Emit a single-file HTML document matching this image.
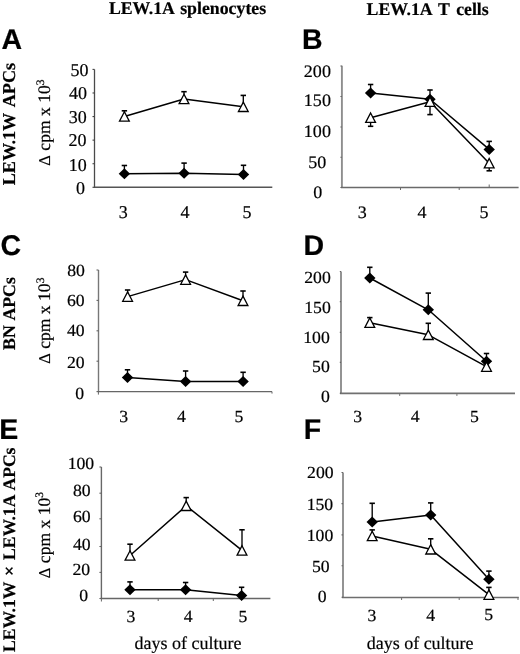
<!DOCTYPE html>
<html><head><meta charset="utf-8"><style>
html,body{margin:0;padding:0;background:#fff;width:520px;height:654px;overflow:hidden}
svg{display:block;will-change:transform;text-rendering:geometricPrecision}
</style></head><body>
<svg width="520" height="654" viewBox="0 0 520 654">
<rect width="520" height="654" fill="#fff"/>
<line x1="94.5" y1="69.4" x2="94.5" y2="187.3" stroke="#4a4a4a" stroke-width="1.3"/>
<line x1="93.85" y1="187.3" x2="272.3" y2="187.3" stroke="#555" stroke-width="1.4"/>
<line x1="92.5" y1="187.30" x2="94.5" y2="187.30" stroke="#444" stroke-width="1.1"/>
<line x1="92.5" y1="163.72" x2="94.5" y2="163.72" stroke="#444" stroke-width="1.1"/>
<line x1="92.5" y1="140.14" x2="94.5" y2="140.14" stroke="#444" stroke-width="1.1"/>
<line x1="92.5" y1="116.56" x2="94.5" y2="116.56" stroke="#444" stroke-width="1.1"/>
<line x1="92.5" y1="92.98" x2="94.5" y2="92.98" stroke="#444" stroke-width="1.1"/>
<line x1="92.5" y1="69.40" x2="94.5" y2="69.40" stroke="#444" stroke-width="1.1"/>
<text x="70.58" y="75.62" font-family='"Liberation Serif", serif' font-weight="normal" font-size="18" fill="#000" stroke="#000" stroke-width="0.2">50</text>
<text x="69.08" y="99.22" font-family='"Liberation Serif", serif' font-weight="normal" font-size="18" fill="#000" stroke="#000" stroke-width="0.2">40</text>
<text x="68.68" y="122.72" font-family='"Liberation Serif", serif' font-weight="normal" font-size="18" fill="#000" stroke="#000" stroke-width="0.2">30</text>
<text x="68.38" y="146.32" font-family='"Liberation Serif", serif' font-weight="normal" font-size="18" fill="#000" stroke="#000" stroke-width="0.2">20</text>
<text x="68.83" y="170.62" font-family='"Liberation Serif", serif' font-weight="normal" font-size="18" fill="#000" stroke="#000" stroke-width="0.2">10</text>
<text x="75.98" y="194.32" font-family='"Liberation Serif", serif' font-weight="normal" font-size="18" fill="#000" stroke="#000" stroke-width="0.2">0</text>
<text x="118.83" y="217.72" font-family='"Liberation Serif", serif' font-weight="normal" font-size="18" fill="#000" stroke="#000" stroke-width="0.2">3</text>
<text x="180.46" y="217.90" font-family='"Liberation Serif", serif' font-weight="normal" font-size="18" fill="#000" stroke="#000" stroke-width="0.2">4</text>
<text x="242.44" y="217.72" font-family='"Liberation Serif", serif' font-weight="normal" font-size="18" fill="#000" stroke="#000" stroke-width="0.2">5</text>
<polyline points="124.40,116.50 184.00,99.00 243.30,106.80" fill="none" stroke="#000" stroke-width="1.5" stroke-linejoin="round"/>
<polyline points="124.40,173.80 184.10,173.30 243.50,174.50" fill="none" stroke="#000" stroke-width="1.5" stroke-linejoin="round"/>
<line x1="124.40" y1="173.80" x2="124.40" y2="165.50" stroke="#000" stroke-width="1.35"/><line x1="121.70" y1="165.50" x2="127.10" y2="165.50" stroke="#000" stroke-width="1.6"/>
<path d="M124.40 168.30 L130.10 173.80 L124.40 179.30 L118.70 173.80Z" fill="#000"/>
<line x1="184.10" y1="173.30" x2="184.10" y2="163.10" stroke="#000" stroke-width="1.35"/><line x1="181.40" y1="163.10" x2="186.80" y2="163.10" stroke="#000" stroke-width="1.6"/>
<path d="M184.10 167.80 L189.80 173.30 L184.10 178.80 L178.40 173.30Z" fill="#000"/>
<line x1="243.50" y1="174.50" x2="243.50" y2="165.30" stroke="#000" stroke-width="1.35"/><line x1="240.80" y1="165.30" x2="246.20" y2="165.30" stroke="#000" stroke-width="1.6"/>
<path d="M243.50 169.00 L249.20 174.50 L243.50 180.00 L237.80 174.50Z" fill="#000"/>
<line x1="124.40" y1="116.50" x2="124.40" y2="110.80" stroke="#000" stroke-width="1.35"/><line x1="121.70" y1="110.80" x2="127.10" y2="110.80" stroke="#000" stroke-width="1.6"/>
<path d="M124.40 111.80 L129.30 121.20 L119.50 121.20Z" fill="#fff" stroke="#000" stroke-width="1.3" stroke-linejoin="miter"/>
<line x1="184.00" y1="99.00" x2="184.00" y2="91.70" stroke="#000" stroke-width="1.35"/><line x1="181.30" y1="91.70" x2="186.70" y2="91.70" stroke="#000" stroke-width="1.6"/>
<path d="M184.00 94.30 L188.90 103.70 L179.10 103.70Z" fill="#fff" stroke="#000" stroke-width="1.3" stroke-linejoin="miter"/>
<line x1="243.30" y1="106.80" x2="243.30" y2="95.40" stroke="#000" stroke-width="1.35"/><line x1="240.60" y1="95.40" x2="246.00" y2="95.40" stroke="#000" stroke-width="1.6"/>
<path d="M243.30 102.10 L248.20 111.50 L238.40 111.50Z" fill="#fff" stroke="#000" stroke-width="1.3" stroke-linejoin="miter"/>
<line x1="341.9" y1="65.7" x2="341.9" y2="187.5" stroke="#8e8e8e" stroke-width="1.9"/>
<line x1="340.95" y1="187.5" x2="518.6" y2="187.5" stroke="#6a6a6a" stroke-width="1.5"/>
<line x1="340.4" y1="187.50" x2="341.9" y2="187.50" stroke="#666" stroke-width="1.1"/>
<line x1="340.4" y1="157.30" x2="341.9" y2="157.30" stroke="#666" stroke-width="1.1"/>
<line x1="340.4" y1="126.95" x2="341.9" y2="126.95" stroke="#666" stroke-width="1.1"/>
<line x1="340.4" y1="96.50" x2="341.9" y2="96.50" stroke="#666" stroke-width="1.1"/>
<line x1="340.4" y1="66.00" x2="341.9" y2="66.00" stroke="#666" stroke-width="1.1"/>
<line x1="400.5" y1="187.5" x2="400.5" y2="190.0" stroke="#6a6a6a" stroke-width="1"/>
<line x1="459.2" y1="187.5" x2="459.2" y2="190.0" stroke="#6a6a6a" stroke-width="1"/>
<line x1="489.2" y1="187.5" x2="489.2" y2="184.5" stroke="#6a6a6a" stroke-width="1"/>
<text transform="translate(303.85,76.73) scale(1.03,1)" font-family='"Liberation Serif", serif' font-weight="normal" font-size="17.5" fill="#000" stroke="#000" stroke-width="0.2">200</text>
<text transform="translate(303.85,106.42) scale(1.03,1)" font-family='"Liberation Serif", serif' font-weight="normal" font-size="17.5" fill="#000" stroke="#000" stroke-width="0.2">150</text>
<text transform="translate(303.85,136.72) scale(1.03,1)" font-family='"Liberation Serif", serif' font-weight="normal" font-size="17.5" fill="#000" stroke="#000" stroke-width="0.2">100</text>
<text transform="translate(308.26,167.82) scale(1.03,1)" font-family='"Liberation Serif", serif' font-weight="normal" font-size="17.5" fill="#000" stroke="#000" stroke-width="0.2">50</text>
<text transform="translate(313.37,198.32) scale(1.03,1)" font-family='"Liberation Serif", serif' font-weight="normal" font-size="17.5" fill="#000" stroke="#000" stroke-width="0.2">0</text>
<text transform="translate(357.82,218.12) scale(1.03,1)" font-family='"Liberation Serif", serif' font-weight="normal" font-size="17.5" fill="#000" stroke="#000" stroke-width="0.2">3</text>
<text transform="translate(417.56,218.30) scale(1.03,1)" font-family='"Liberation Serif", serif' font-weight="normal" font-size="17.5" fill="#000" stroke="#000" stroke-width="0.2">4</text>
<text transform="translate(479.43,218.12) scale(1.03,1)" font-family='"Liberation Serif", serif' font-weight="normal" font-size="17.5" fill="#000" stroke="#000" stroke-width="0.2">5</text>
<polyline points="370.60,117.70 430.00,101.70 489.20,163.20" fill="none" stroke="#000" stroke-width="1.5" stroke-linejoin="round"/>
<polyline points="370.60,93.10 430.00,99.20 489.20,149.40" fill="none" stroke="#000" stroke-width="1.5" stroke-linejoin="round"/>
<line x1="370.60" y1="93.10" x2="370.60" y2="84.50" stroke="#000" stroke-width="1.35"/><line x1="367.90" y1="84.50" x2="373.30" y2="84.50" stroke="#000" stroke-width="1.6"/>
<path d="M370.60 87.60 L376.30 93.10 L370.60 98.60 L364.90 93.10Z" fill="#000"/>
<line x1="430.00" y1="99.20" x2="430.00" y2="90.00" stroke="#000" stroke-width="1.35"/><line x1="427.30" y1="90.00" x2="432.70" y2="90.00" stroke="#000" stroke-width="1.6"/>
<path d="M430.00 93.70 L435.70 99.20 L430.00 104.70 L424.30 99.20Z" fill="#000"/>
<line x1="489.20" y1="149.40" x2="489.20" y2="141.40" stroke="#000" stroke-width="1.35"/><line x1="486.50" y1="141.40" x2="491.90" y2="141.40" stroke="#000" stroke-width="1.6"/>
<path d="M489.20 143.90 L494.90 149.40 L489.20 154.90 L483.50 149.40Z" fill="#000"/>
<line x1="370.60" y1="117.70" x2="370.60" y2="126.30" stroke="#000" stroke-width="1.35"/><line x1="367.90" y1="126.30" x2="373.30" y2="126.30" stroke="#000" stroke-width="1.6"/>
<path d="M370.60 113.00 L375.50 122.40 L365.70 122.40Z" fill="#fff" stroke="#000" stroke-width="1.3" stroke-linejoin="miter"/>
<line x1="430.00" y1="101.70" x2="430.00" y2="114.60" stroke="#000" stroke-width="1.35"/><line x1="427.30" y1="114.60" x2="432.70" y2="114.60" stroke="#000" stroke-width="1.6"/>
<path d="M430.00 97.00 L434.90 106.40 L425.10 106.40Z" fill="#fff" stroke="#000" stroke-width="1.3" stroke-linejoin="miter"/>
<line x1="489.20" y1="163.20" x2="489.20" y2="170.80" stroke="#000" stroke-width="1.35"/><line x1="486.50" y1="170.80" x2="491.90" y2="170.80" stroke="#000" stroke-width="1.6"/>
<path d="M489.20 158.50 L494.10 167.90 L484.30 167.90Z" fill="#fff" stroke="#000" stroke-width="1.3" stroke-linejoin="miter"/>
<line x1="98.5" y1="270.0" x2="98.5" y2="391.6" stroke="#777" stroke-width="1.4"/>
<line x1="97.8" y1="391.6" x2="272.0" y2="391.6" stroke="#666" stroke-width="1.4"/>
<line x1="96.5" y1="391.60" x2="98.5" y2="391.60" stroke="#666" stroke-width="1.1"/>
<line x1="96.5" y1="361.20" x2="98.5" y2="361.20" stroke="#666" stroke-width="1.1"/>
<line x1="96.5" y1="330.80" x2="98.5" y2="330.80" stroke="#666" stroke-width="1.1"/>
<line x1="96.5" y1="300.40" x2="98.5" y2="300.40" stroke="#666" stroke-width="1.1"/>
<line x1="96.5" y1="270.00" x2="98.5" y2="270.00" stroke="#666" stroke-width="1.1"/>
<line x1="98.4" y1="391.6" x2="98.4" y2="394.6" stroke="#666" stroke-width="1"/>
<line x1="272.0" y1="391.6" x2="272.0" y2="393.6" stroke="#666" stroke-width="1"/>
<text transform="translate(67.19,276.13) scale(1.04,1)" font-family='"Liberation Serif", serif' font-weight="normal" font-size="17" fill="#000" stroke="#000" stroke-width="0.2">80</text>
<text transform="translate(66.99,305.83) scale(1.04,1)" font-family='"Liberation Serif", serif' font-weight="normal" font-size="17" fill="#000" stroke="#000" stroke-width="0.2">60</text>
<text transform="translate(66.89,336.23) scale(1.04,1)" font-family='"Liberation Serif", serif' font-weight="normal" font-size="17" fill="#000" stroke="#000" stroke-width="0.2">40</text>
<text transform="translate(66.89,367.83) scale(1.04,1)" font-family='"Liberation Serif", serif' font-weight="normal" font-size="17" fill="#000" stroke="#000" stroke-width="0.2">20</text>
<text transform="translate(75.33,398.53) scale(1.04,1)" font-family='"Liberation Serif", serif' font-weight="normal" font-size="17" fill="#000" stroke="#000" stroke-width="0.2">0</text>
<text transform="translate(119.26,421.83) scale(1.04,1)" font-family='"Liberation Serif", serif' font-weight="normal" font-size="17" fill="#000" stroke="#000" stroke-width="0.2">3</text>
<text transform="translate(176.89,422.00) scale(1.04,1)" font-family='"Liberation Serif", serif' font-weight="normal" font-size="17" fill="#000" stroke="#000" stroke-width="0.2">4</text>
<text transform="translate(234.62,421.83) scale(1.04,1)" font-family='"Liberation Serif", serif' font-weight="normal" font-size="17" fill="#000" stroke="#000" stroke-width="0.2">5</text>
<polyline points="127.60,296.60 185.60,279.60 243.00,300.80" fill="none" stroke="#000" stroke-width="1.5" stroke-linejoin="round"/>
<polyline points="127.50,377.50 185.60,381.60 243.10,381.50" fill="none" stroke="#000" stroke-width="1.5" stroke-linejoin="round"/>
<line x1="127.50" y1="377.50" x2="127.50" y2="369.80" stroke="#000" stroke-width="1.35"/><line x1="124.80" y1="369.80" x2="130.20" y2="369.80" stroke="#000" stroke-width="1.6"/>
<path d="M127.50 372.00 L133.20 377.50 L127.50 383.00 L121.80 377.50Z" fill="#000"/>
<line x1="185.60" y1="381.60" x2="185.60" y2="371.00" stroke="#000" stroke-width="1.35"/><line x1="182.90" y1="371.00" x2="188.30" y2="371.00" stroke="#000" stroke-width="1.6"/>
<path d="M185.60 376.10 L191.30 381.60 L185.60 387.10 L179.90 381.60Z" fill="#000"/>
<line x1="243.10" y1="381.50" x2="243.10" y2="372.30" stroke="#000" stroke-width="1.35"/><line x1="240.40" y1="372.30" x2="245.80" y2="372.30" stroke="#000" stroke-width="1.6"/>
<path d="M243.10 376.00 L248.80 381.50 L243.10 387.00 L237.40 381.50Z" fill="#000"/>
<line x1="127.60" y1="296.60" x2="127.60" y2="290.00" stroke="#000" stroke-width="1.35"/><line x1="124.90" y1="290.00" x2="130.30" y2="290.00" stroke="#000" stroke-width="1.6"/>
<path d="M127.60 291.90 L132.50 301.30 L122.70 301.30Z" fill="#fff" stroke="#000" stroke-width="1.3" stroke-linejoin="miter"/>
<line x1="185.60" y1="279.60" x2="185.60" y2="272.10" stroke="#000" stroke-width="1.35"/><line x1="182.90" y1="272.10" x2="188.30" y2="272.10" stroke="#000" stroke-width="1.6"/>
<path d="M185.60 274.90 L190.50 284.30 L180.70 284.30Z" fill="#fff" stroke="#000" stroke-width="1.3" stroke-linejoin="miter"/>
<line x1="243.00" y1="300.80" x2="243.00" y2="291.00" stroke="#000" stroke-width="1.35"/><line x1="240.30" y1="291.00" x2="245.70" y2="291.00" stroke="#000" stroke-width="1.6"/>
<path d="M243.00 296.10 L247.90 305.50 L238.10 305.50Z" fill="#fff" stroke="#000" stroke-width="1.3" stroke-linejoin="miter"/>
<line x1="341.0" y1="271.5" x2="341.0" y2="393.4" stroke="#8e8e8e" stroke-width="1.9"/>
<line x1="340.05" y1="393.4" x2="515.0" y2="393.4" stroke="#707070" stroke-width="1.6"/>
<line x1="339.8" y1="393.40" x2="341.0" y2="393.40" stroke="#666" stroke-width="1.1"/>
<line x1="339.8" y1="362.40" x2="341.0" y2="362.40" stroke="#666" stroke-width="1.1"/>
<line x1="339.8" y1="332.40" x2="341.0" y2="332.40" stroke="#666" stroke-width="1.1"/>
<line x1="339.8" y1="301.60" x2="341.0" y2="301.60" stroke="#666" stroke-width="1.1"/>
<line x1="339.8" y1="271.50" x2="341.0" y2="271.50" stroke="#666" stroke-width="1.1"/>
<line x1="399.7" y1="393.4" x2="399.7" y2="395.9" stroke="#707070" stroke-width="1"/>
<line x1="456.9" y1="393.4" x2="456.9" y2="395.9" stroke="#707070" stroke-width="1"/>
<text transform="translate(304.25,282.53) scale(1.04,1)" font-family='"Liberation Serif", serif' font-weight="normal" font-size="17" fill="#000" stroke="#000" stroke-width="0.2">200</text>
<text transform="translate(304.25,312.73) scale(1.04,1)" font-family='"Liberation Serif", serif' font-weight="normal" font-size="17" fill="#000" stroke="#000" stroke-width="0.2">150</text>
<text transform="translate(303.25,342.73) scale(1.04,1)" font-family='"Liberation Serif", serif' font-weight="normal" font-size="17" fill="#000" stroke="#000" stroke-width="0.2">100</text>
<text transform="translate(312.09,372.33) scale(1.04,1)" font-family='"Liberation Serif", serif' font-weight="normal" font-size="17" fill="#000" stroke="#000" stroke-width="0.2">50</text>
<text transform="translate(320.93,401.93) scale(1.04,1)" font-family='"Liberation Serif", serif' font-weight="normal" font-size="17" fill="#000" stroke="#000" stroke-width="0.2">0</text>
<text transform="translate(353.31,421.73) scale(1.04,1)" font-family='"Liberation Serif", serif' font-weight="normal" font-size="17" fill="#000" stroke="#000" stroke-width="0.2">3</text>
<text transform="translate(410.74,421.90) scale(1.04,1)" font-family='"Liberation Serif", serif' font-weight="normal" font-size="17" fill="#000" stroke="#000" stroke-width="0.2">4</text>
<text transform="translate(469.92,421.73) scale(1.04,1)" font-family='"Liberation Serif", serif' font-weight="normal" font-size="17" fill="#000" stroke="#000" stroke-width="0.2">5</text>
<polyline points="369.80,322.70 428.30,334.80 486.50,366.60" fill="none" stroke="#000" stroke-width="1.5" stroke-linejoin="round"/>
<polyline points="369.80,278.00 428.30,309.80 486.50,361.20" fill="none" stroke="#000" stroke-width="1.5" stroke-linejoin="round"/>
<line x1="369.80" y1="278.00" x2="369.80" y2="267.30" stroke="#000" stroke-width="1.35"/><line x1="367.10" y1="267.30" x2="372.50" y2="267.30" stroke="#000" stroke-width="1.6"/>
<path d="M369.80 272.50 L375.50 278.00 L369.80 283.50 L364.10 278.00Z" fill="#000"/>
<line x1="428.30" y1="309.80" x2="428.30" y2="293.10" stroke="#000" stroke-width="1.35"/><line x1="425.60" y1="293.10" x2="431.00" y2="293.10" stroke="#000" stroke-width="1.6"/>
<path d="M428.30 304.30 L434.00 309.80 L428.30 315.30 L422.60 309.80Z" fill="#000"/>
<line x1="486.50" y1="361.20" x2="486.50" y2="353.50" stroke="#000" stroke-width="1.35"/><line x1="483.80" y1="353.50" x2="489.20" y2="353.50" stroke="#000" stroke-width="1.6"/>
<path d="M486.50 355.70 L492.20 361.20 L486.50 366.70 L480.80 361.20Z" fill="#000"/>
<line x1="369.80" y1="322.70" x2="369.80" y2="317.60" stroke="#000" stroke-width="1.35"/><line x1="367.10" y1="317.60" x2="372.50" y2="317.60" stroke="#000" stroke-width="1.6"/>
<path d="M369.80 318.00 L374.70 327.40 L364.90 327.40Z" fill="#fff" stroke="#000" stroke-width="1.3" stroke-linejoin="miter"/>
<line x1="428.30" y1="334.80" x2="428.30" y2="323.30" stroke="#000" stroke-width="1.35"/><line x1="425.60" y1="323.30" x2="431.00" y2="323.30" stroke="#000" stroke-width="1.6"/>
<path d="M428.30 330.10 L433.20 339.50 L423.40 339.50Z" fill="#fff" stroke="#000" stroke-width="1.3" stroke-linejoin="miter"/>
<line x1="486.50" y1="366.60" x2="486.50" y2="362.00" stroke="#000" stroke-width="1.35"/><line x1="483.80" y1="362.00" x2="489.20" y2="362.00" stroke="#000" stroke-width="1.6"/>
<path d="M486.50 361.90 L491.40 371.30 L481.60 371.30Z" fill="#fff" stroke="#000" stroke-width="1.3" stroke-linejoin="miter"/>
<line x1="101.4" y1="467.0" x2="101.4" y2="598.5" stroke="#686868" stroke-width="1.4"/>
<line x1="100.7" y1="598.5" x2="270.4" y2="598.5" stroke="#666" stroke-width="1.4"/>
<line x1="99.4" y1="598.50" x2="101.4" y2="598.50" stroke="#666" stroke-width="1.1"/>
<line x1="99.4" y1="572.40" x2="101.4" y2="572.40" stroke="#666" stroke-width="1.1"/>
<line x1="99.4" y1="546.50" x2="101.4" y2="546.50" stroke="#666" stroke-width="1.1"/>
<line x1="99.4" y1="518.80" x2="101.4" y2="518.80" stroke="#666" stroke-width="1.1"/>
<line x1="99.4" y1="493.20" x2="101.4" y2="493.20" stroke="#666" stroke-width="1.1"/>
<line x1="99.4" y1="467.00" x2="101.4" y2="467.00" stroke="#666" stroke-width="1.1"/>
<line x1="101.4" y1="598.5" x2="101.4" y2="601.5" stroke="#666" stroke-width="1"/>
<line x1="158.2" y1="598.5" x2="158.2" y2="601.0" stroke="#666" stroke-width="1"/>
<line x1="213.3" y1="598.5" x2="213.3" y2="601.0" stroke="#666" stroke-width="1"/>
<text transform="translate(67.65,468.93) scale(1.04,1)" font-family='"Liberation Serif", serif' font-weight="normal" font-size="17" fill="#000" stroke="#000" stroke-width="0.2">100</text>
<text transform="translate(72.99,495.83) scale(1.04,1)" font-family='"Liberation Serif", serif' font-weight="normal" font-size="17" fill="#000" stroke="#000" stroke-width="0.2">80</text>
<text transform="translate(72.99,522.03) scale(1.04,1)" font-family='"Liberation Serif", serif' font-weight="normal" font-size="17" fill="#000" stroke="#000" stroke-width="0.2">60</text>
<text transform="translate(72.99,549.73) scale(1.04,1)" font-family='"Liberation Serif", serif' font-weight="normal" font-size="17" fill="#000" stroke="#000" stroke-width="0.2">40</text>
<text transform="translate(72.49,575.13) scale(1.04,1)" font-family='"Liberation Serif", serif' font-weight="normal" font-size="17" fill="#000" stroke="#000" stroke-width="0.2">20</text>
<text transform="translate(79.23,601.23) scale(1.04,1)" font-family='"Liberation Serif", serif' font-weight="normal" font-size="17" fill="#000" stroke="#000" stroke-width="0.2">0</text>
<text transform="translate(126.61,621.53) scale(1.04,1)" font-family='"Liberation Serif", serif' font-weight="normal" font-size="17" fill="#000" stroke="#000" stroke-width="0.2">3</text>
<text transform="translate(183.69,621.70) scale(1.04,1)" font-family='"Liberation Serif", serif' font-weight="normal" font-size="17" fill="#000" stroke="#000" stroke-width="0.2">4</text>
<text transform="translate(238.52,621.53) scale(1.04,1)" font-family='"Liberation Serif", serif' font-weight="normal" font-size="17" fill="#000" stroke="#000" stroke-width="0.2">5</text>
<polyline points="130.00,555.50 186.20,505.80 242.00,550.40" fill="none" stroke="#000" stroke-width="1.5" stroke-linejoin="round"/>
<polyline points="130.00,589.70 185.60,589.70 241.60,595.40" fill="none" stroke="#000" stroke-width="1.5" stroke-linejoin="round"/>
<line x1="130.00" y1="589.70" x2="130.00" y2="581.90" stroke="#000" stroke-width="1.35"/><line x1="127.30" y1="581.90" x2="132.70" y2="581.90" stroke="#000" stroke-width="1.6"/>
<path d="M130.00 584.20 L135.70 589.70 L130.00 595.20 L124.30 589.70Z" fill="#000"/>
<line x1="185.60" y1="589.70" x2="185.60" y2="582.50" stroke="#000" stroke-width="1.35"/><line x1="182.90" y1="582.50" x2="188.30" y2="582.50" stroke="#000" stroke-width="1.6"/>
<path d="M185.60 584.20 L191.30 589.70 L185.60 595.20 L179.90 589.70Z" fill="#000"/>
<line x1="241.60" y1="595.40" x2="241.60" y2="587.30" stroke="#000" stroke-width="1.35"/><line x1="238.90" y1="587.30" x2="244.30" y2="587.30" stroke="#000" stroke-width="1.6"/>
<path d="M241.60 589.90 L247.30 595.40 L241.60 600.90 L235.90 595.40Z" fill="#000"/>
<line x1="130.00" y1="555.50" x2="130.00" y2="544.20" stroke="#000" stroke-width="1.35"/><line x1="127.30" y1="544.20" x2="132.70" y2="544.20" stroke="#000" stroke-width="1.6"/>
<path d="M130.00 550.80 L134.90 560.20 L125.10 560.20Z" fill="#fff" stroke="#000" stroke-width="1.3" stroke-linejoin="miter"/>
<line x1="186.20" y1="505.80" x2="186.20" y2="497.60" stroke="#000" stroke-width="1.35"/><line x1="183.50" y1="497.60" x2="188.90" y2="497.60" stroke="#000" stroke-width="1.6"/>
<path d="M186.20 501.10 L191.10 510.50 L181.30 510.50Z" fill="#fff" stroke="#000" stroke-width="1.3" stroke-linejoin="miter"/>
<line x1="242.00" y1="550.40" x2="242.00" y2="529.80" stroke="#000" stroke-width="1.35"/><line x1="239.30" y1="529.80" x2="244.70" y2="529.80" stroke="#000" stroke-width="1.6"/>
<path d="M242.00 545.70 L246.90 555.10 L237.10 555.10Z" fill="#fff" stroke="#000" stroke-width="1.3" stroke-linejoin="miter"/>
<line x1="343.0" y1="472.5" x2="343.0" y2="597.5" stroke="#8e8e8e" stroke-width="1.9"/>
<line x1="342.05" y1="597.5" x2="518.8" y2="597.5" stroke="#6e6e6e" stroke-width="1.5"/>
<line x1="341.5" y1="597.30" x2="343.0" y2="597.30" stroke="#666" stroke-width="1.1"/>
<line x1="341.5" y1="565.70" x2="343.0" y2="565.70" stroke="#666" stroke-width="1.1"/>
<line x1="341.5" y1="534.90" x2="343.0" y2="534.90" stroke="#666" stroke-width="1.1"/>
<line x1="341.5" y1="503.60" x2="343.0" y2="503.60" stroke="#666" stroke-width="1.1"/>
<line x1="341.5" y1="472.50" x2="343.0" y2="472.50" stroke="#666" stroke-width="1.1"/>
<line x1="401.6" y1="597.5" x2="401.6" y2="600.0" stroke="#6e6e6e" stroke-width="1"/>
<line x1="459.2" y1="597.5" x2="459.2" y2="600.0" stroke="#6e6e6e" stroke-width="1"/>
<line x1="518.0" y1="597.5" x2="518.0" y2="600.0" stroke="#6e6e6e" stroke-width="1"/>
<text transform="translate(307.05,478.13) scale(1.04,1)" font-family='"Liberation Serif", serif' font-weight="normal" font-size="17" fill="#000" stroke="#000" stroke-width="0.2">200</text>
<text transform="translate(306.65,509.83) scale(1.04,1)" font-family='"Liberation Serif", serif' font-weight="normal" font-size="17" fill="#000" stroke="#000" stroke-width="0.2">150</text>
<text transform="translate(306.75,541.13) scale(1.04,1)" font-family='"Liberation Serif", serif' font-weight="normal" font-size="17" fill="#000" stroke="#000" stroke-width="0.2">100</text>
<text transform="translate(311.99,571.83) scale(1.04,1)" font-family='"Liberation Serif", serif' font-weight="normal" font-size="17" fill="#000" stroke="#000" stroke-width="0.2">50</text>
<text transform="translate(317.63,602.43) scale(1.04,1)" font-family='"Liberation Serif", serif' font-weight="normal" font-size="17" fill="#000" stroke="#000" stroke-width="0.2">0</text>
<text transform="translate(367.46,620.63) scale(1.04,1)" font-family='"Liberation Serif", serif' font-weight="normal" font-size="17" fill="#000" stroke="#000" stroke-width="0.2">3</text>
<text transform="translate(426.29,620.80) scale(1.04,1)" font-family='"Liberation Serif", serif' font-weight="normal" font-size="17" fill="#000" stroke="#000" stroke-width="0.2">4</text>
<text transform="translate(484.27,619.63) scale(1.04,1)" font-family='"Liberation Serif", serif' font-weight="normal" font-size="17" fill="#000" stroke="#000" stroke-width="0.2">5</text>
<polyline points="372.20,536.00 430.70,549.30 488.90,594.60" fill="none" stroke="#000" stroke-width="1.5" stroke-linejoin="round"/>
<polyline points="372.20,522.10 430.70,515.00 488.90,579.20" fill="none" stroke="#000" stroke-width="1.5" stroke-linejoin="round"/>
<line x1="372.20" y1="522.10" x2="372.20" y2="503.30" stroke="#000" stroke-width="1.35"/><line x1="369.50" y1="503.30" x2="374.90" y2="503.30" stroke="#000" stroke-width="1.6"/>
<path d="M372.20 516.60 L377.90 522.10 L372.20 527.60 L366.50 522.10Z" fill="#000"/>
<line x1="430.70" y1="515.00" x2="430.70" y2="502.90" stroke="#000" stroke-width="1.35"/><line x1="428.00" y1="502.90" x2="433.40" y2="502.90" stroke="#000" stroke-width="1.6"/>
<path d="M430.70 509.50 L436.40 515.00 L430.70 520.50 L425.00 515.00Z" fill="#000"/>
<line x1="488.90" y1="579.20" x2="488.90" y2="571.10" stroke="#000" stroke-width="1.35"/><line x1="486.20" y1="571.10" x2="491.60" y2="571.10" stroke="#000" stroke-width="1.6"/>
<path d="M488.90 573.70 L494.60 579.20 L488.90 584.70 L483.20 579.20Z" fill="#000"/>
<line x1="372.20" y1="536.00" x2="372.20" y2="529.90" stroke="#000" stroke-width="1.35"/><line x1="369.50" y1="529.90" x2="374.90" y2="529.90" stroke="#000" stroke-width="1.6"/>
<path d="M372.20 531.30 L377.10 540.70 L367.30 540.70Z" fill="#fff" stroke="#000" stroke-width="1.3" stroke-linejoin="miter"/>
<line x1="430.70" y1="549.30" x2="430.70" y2="538.80" stroke="#000" stroke-width="1.35"/><line x1="428.00" y1="538.80" x2="433.40" y2="538.80" stroke="#000" stroke-width="1.6"/>
<path d="M430.70 544.60 L435.60 554.00 L425.80 554.00Z" fill="#fff" stroke="#000" stroke-width="1.3" stroke-linejoin="miter"/>
<line x1="488.90" y1="594.60" x2="488.90" y2="587.40" stroke="#000" stroke-width="1.35"/><line x1="486.20" y1="587.40" x2="491.60" y2="587.40" stroke="#000" stroke-width="1.6"/>
<path d="M488.90 589.90 L493.80 599.30 L484.00 599.30Z" fill="#fff" stroke="#000" stroke-width="1.3" stroke-linejoin="miter"/>
<text x="108.88" y="14.30" font-family='"Liberation Serif", serif' font-weight="bold" font-size="17.8" fill="#000" stroke="#000" stroke-width="0.2" word-spacing="1.8">LEW.1A splenocytes</text>
<text x="366.58" y="14.50" font-family='"Liberation Serif", serif' font-weight="bold" font-size="17.8" fill="#000" stroke="#000" stroke-width="0.2" word-spacing="2.2">LEW.1A T cells</text>
<text x="1.56" y="48.81" font-family='"Liberation Sans", sans-serif' font-weight="bold" font-size="28.5" fill="#000" stroke="#000" stroke-width="0.2">A</text>
<text x="302.12" y="49.21" font-family='"Liberation Sans", sans-serif' font-weight="bold" font-size="28.5" fill="#000" stroke="#000" stroke-width="0.2">B</text>
<text x="0.50" y="255.49" font-family='"Liberation Sans", sans-serif' font-weight="bold" font-size="28.5" fill="#000" stroke="#000" stroke-width="0.2">C</text>
<text x="303.52" y="255.21" font-family='"Liberation Sans", sans-serif' font-weight="bold" font-size="28.5" fill="#000" stroke="#000" stroke-width="0.2">D</text>
<text x="-0.68" y="438.81" font-family='"Liberation Sans", sans-serif' font-weight="bold" font-size="28.5" fill="#000" stroke="#000" stroke-width="0.2">E</text>
<text x="303.72" y="439.41" font-family='"Liberation Sans", sans-serif' font-weight="bold" font-size="28.5" fill="#000" stroke="#000" stroke-width="0.2">F</text>
<text transform="translate(14.80,185.33) rotate(-90)" font-family='"Liberation Serif", serif' font-weight="bold" font-size="18.2" fill="#000" stroke="#000" stroke-width="0.2" word-spacing="2.2">LEW.1W APCs</text>
<text transform="translate(14.60,349.98) rotate(-90)" font-family='"Liberation Serif", serif' font-weight="bold" font-size="17.8" fill="#000" stroke="#000" stroke-width="0.2" word-spacing="1.2">BN APCs</text>
<text transform="translate(14.80,651.92) rotate(-90)" font-family='"Liberation Serif", serif' font-weight="bold" font-size="17.6" fill="#000" stroke="#000" stroke-width="0.2" word-spacing="1.6">LEW.1W × LEW.1A APCs</text>
<text transform="translate(50.00,165.67) rotate(-90)" font-family='"Liberation Serif", serif' font-size="17.6" fill="#000" stroke="#000" stroke-width="0.2"><tspan font-size="16.5">Δ</tspan> cpm x 10<tspan font-size="11.5" dy="-6.1">3</tspan></text>
<text transform="translate(50.00,363.87) rotate(-90)" font-family='"Liberation Serif", serif' font-size="17.6" fill="#000" stroke="#000" stroke-width="0.2"><tspan font-size="16.5">Δ</tspan> cpm x 10<tspan font-size="11.5" dy="-6.1">3</tspan></text>
<text transform="translate(49.50,578.17) rotate(-90)" font-family='"Liberation Serif", serif' font-size="17.6" fill="#000" stroke="#000" stroke-width="0.2"><tspan font-size="16.5">Δ</tspan> cpm x 10<tspan font-size="11.5" dy="-6.1">3</tspan></text>
<text x="134.45" y="649.20" font-family='"Liberation Serif", serif' font-weight="normal" font-size="18" fill="#000" stroke="#000" stroke-width="0.2">days of culture</text>
<text x="366.65" y="649.00" font-family='"Liberation Serif", serif' font-weight="normal" font-size="18" fill="#000" stroke="#000" stroke-width="0.2">days of culture</text>
</svg>
</body></html>
